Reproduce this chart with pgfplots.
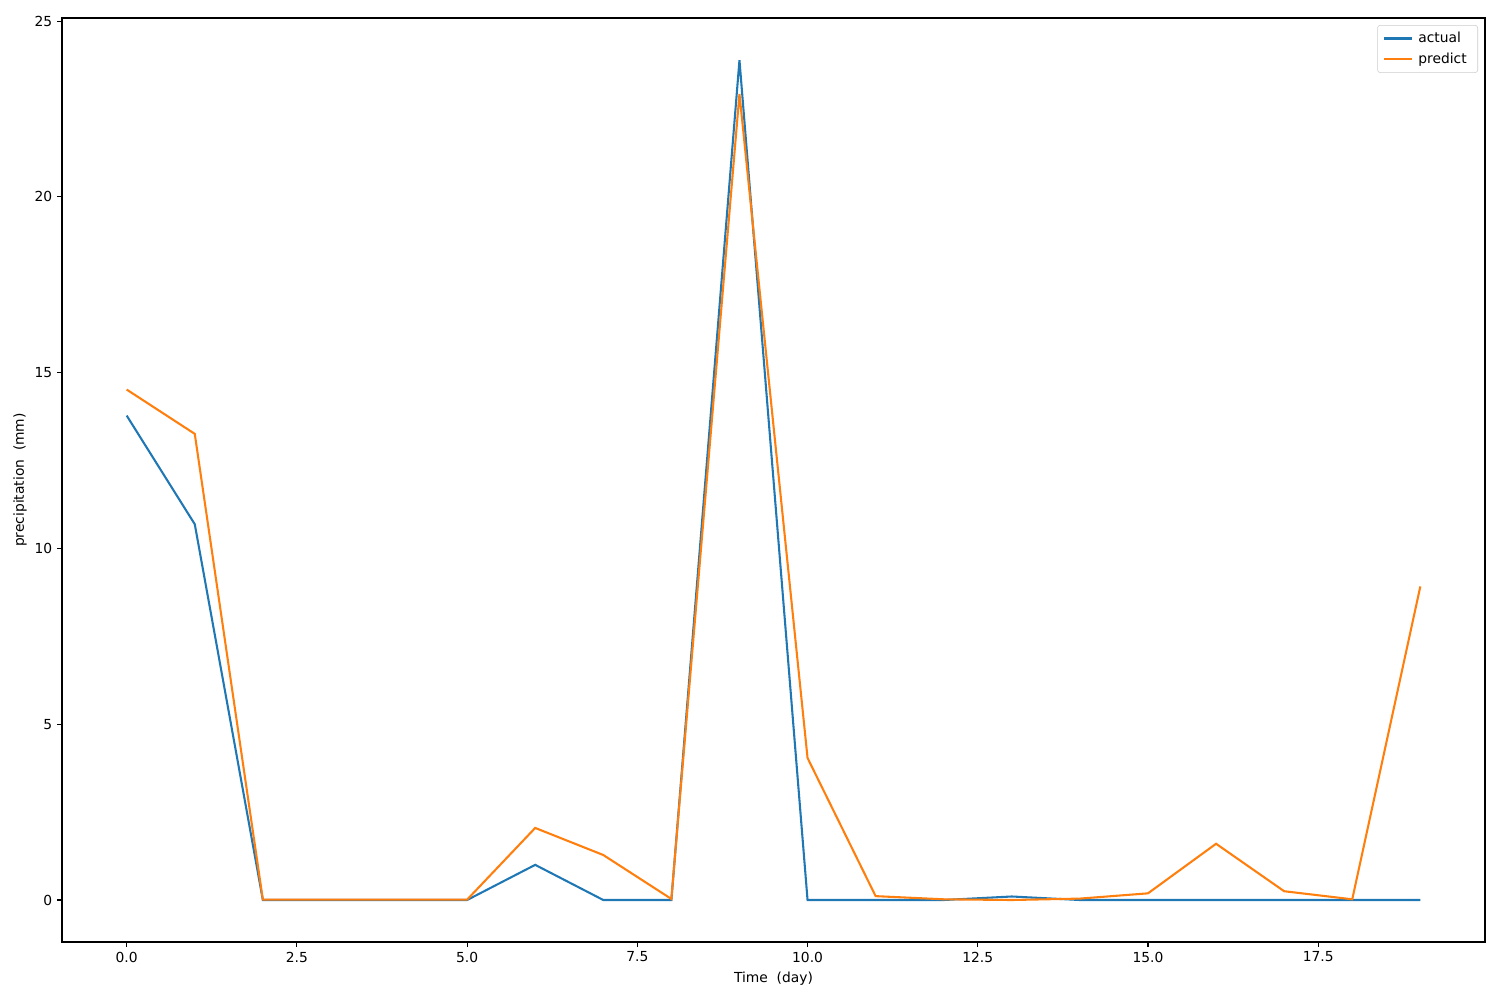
\documentclass[border=0pt]{standalone}
\usepackage{fontspec}
\setmainfont{DejaVu Sans}
\usepackage{pgfplots}
\pgfplotsset{compat=1.18}
\definecolor{mplblue}{HTML}{1F77B4}
\definecolor{mplorange}{HTML}{FF7F0E}
\begin{document}
\begin{tikzpicture}
\begin{axis}[
  scale only axis,
  width=14.23in, height=9.24in,
  xmin=-0.95, xmax=19.95,
  ymin=-1.195, ymax=25.09,
  xtick={0,2.5,5,7.5,10,12.5,15,17.5},
  xticklabels={0.0,2.5,5.0,7.5,10.0,12.5,15.0,17.5},
  ytick={0,5,10,15,20,25},
  tick align=outside,
  major tick length=3.5pt,
  xtick pos=bottom, ytick pos=left,
  tick style={black, line width=0.8pt},
  axis line style={line width=0.8pt},
  every tick label/.append style={font=\fontsize{10}{12}\selectfont},
  /pgf/number format/assume math mode=true,
  xlabel={Time\ \ (day)},
  ylabel={precipitation\ \ (mm)},
  label style={font=\fontsize{10}{12}\selectfont},
  xlabel style={at={(axis description cs:0.5,0)}, anchor=north, yshift=-18pt},
  ylabel style={at={(axis description cs:0,0.5)}, anchor=south, yshift=22pt},
  legend style={at={(axis description cs:0.9951,0.9924)}, anchor=north east,
    draw=black!20, rounded corners=2pt, font=\fontsize{10}{12}\selectfont,
    inner xsep=4pt, inner ysep=3pt, row sep=2pt,
    nodes={inner xsep=4pt}},
  legend cell align=left,
  legend image code/.code={\draw[#1,line width=1.5pt](0pt,0pt)--(20pt,0pt);},
]
\addplot[mplblue, line width=1.5pt] coordinates {
(0,13.78) (1,10.69) (2,0) (3,0) (4,0) (5,0) (6,1.0) (7,0) (8,0) (9,23.89)
(10,0) (11,0) (12,0) (13,0.1) (14,0) (15,0) (16,0) (17,0) (18,0) (19,0)};
\addlegendentry{actual}
\addplot[mplorange, line width=1.5pt] coordinates {
(0,14.52) (1,13.26) (2,0.01) (3,0.01) (4,0.01) (5,0.01) (6,2.05) (7,1.28) (8,0.03) (9,22.93)
(10,4.04) (11,0.11) (12,0.02) (13,0.0) (14,0.04) (15,0.19) (16,1.6) (17,0.25) (18,0.02) (19,8.92)};
\addlegendentry{predict}
\end{axis}
\pgfresetboundingbox
\path (current axis.south west) ++(-0.62in,-0.58in) coordinate (bl);
\path (current axis.north east) ++(0.15in,0.18in) coordinate (tr);
\useasboundingbox (bl) rectangle (tr);
\end{tikzpicture}
\end{document}
